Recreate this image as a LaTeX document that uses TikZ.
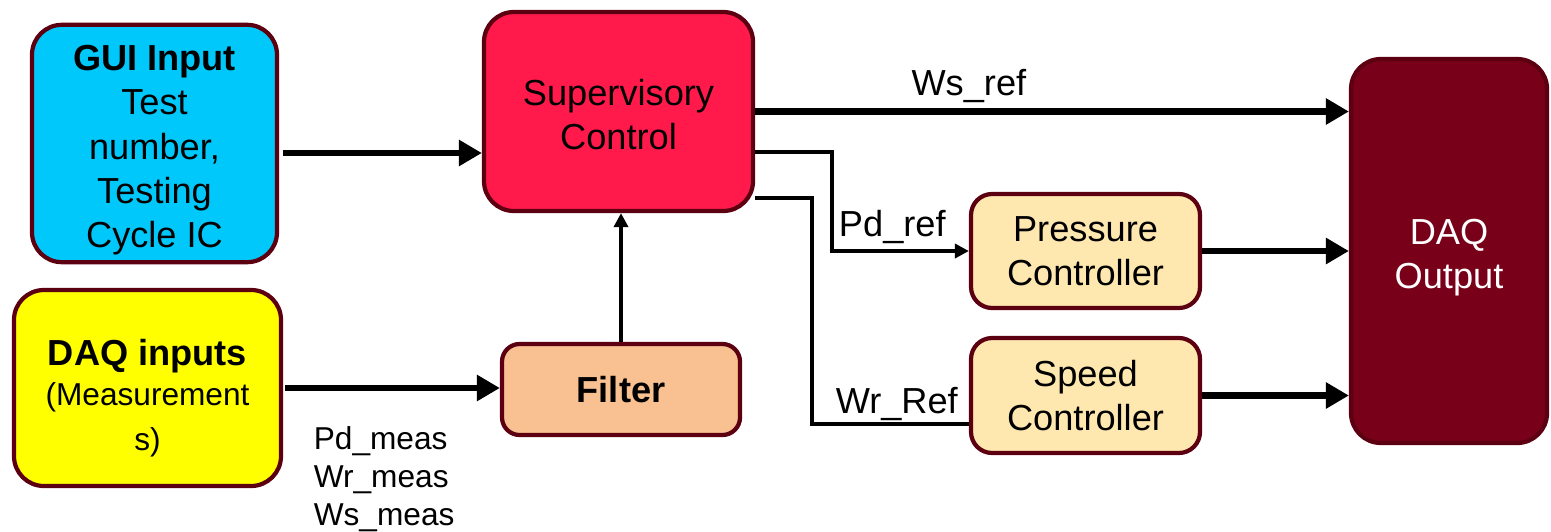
\documentclass[tikz,border=0pt]{standalone}
\usepackage{fontspec}
\setmainfont{Liberation Sans}
\usepackage{xcolor}
\usepackage{tikz}
\usetikzlibrary{arrows.meta,positioning,calc}
\definecolor{edge}{HTML}{5C0011}
\definecolor{guifill}{HTML}{00C8FA}
\definecolor{daqfill}{HTML}{FFFF00}
\definecolor{supfill}{HTML}{FF1A4B}
\definecolor{filtfill}{HTML}{F9C191}
\definecolor{ctrlfill}{HTML}{FFE8B0}
\definecolor{outfill}{HTML}{780018}
\tikzset{
  blk/.style  ={draw=edge, line width=1.2pt, rounded corners=8.5pt, align=center,
                font=\fontsize{10.3}{12.6}\selectfont, inner sep=2pt},
  fat/.style  ={draw=black, line width=1.8pt, -{Triangle[length=0.23cm,width=0.25cm]}},
  fl/.style   ={draw=black, line width=1pt, -{Triangle[length=0.14cm,width=0.14cm]}},
  ln/.style   ={draw=black, line width=1pt},
  sig/.style  ={font=\fontsize{10.3}{12.5}\selectfont, inner sep=1.5pt},
  meas/.style ={font=\fontsize{9}{10.8}\selectfont, align=left, inner sep=0pt},
}
% extra room above the first line, pushes a text block down a little
\newcommand{\topgap}[1]{\rule{0pt}{#1}}
\newcommand{\smallln}{\fontsize{9}{12}\selectfont}

\begin{document}
\begin{tikzpicture}[x=1cm,y=1cm]
  \useasboundingbox (0,0) rectangle (15.51,-5.31);

  % ---------------- input side ----------------------------------------------
  \node[blk, fill=guifill, minimum width=2.45cm, minimum height=2.35cm] (gui) at (1.545,-1.435)
        {\topgap{11pt}\textbf{GUI Input}\\Test\\number,\\Testing\\Cycle IC};
  \node[blk, fill=daqfill, minimum width=2.67cm, minimum height=1.96cm] (din) at (1.475,-3.88)
        {\topgap{13pt}\textbf{DAQ inputs}\\[-1pt]\smallln (Measurement\\\smallln s)};
  \node[meas, anchor=north west] (meas) at ([xshift=0.30cm,yshift=-0.38cm]din.east)
        {Pd\_meas\\Wr\_meas\\Ws\_meas};

  % ---------------- supervisory layer ----------------------------------------
  \node[blk, fill=supfill, minimum width=2.69cm, minimum height=1.99cm] (sup) at (6.185,-1.115)
        {\topgap{9pt}Supervisory\\Control};
  \node[blk, fill=filtfill, rounded corners=5pt, minimum width=2.38cm, minimum height=0.91cm]
        (filt) at (6.21,-3.895) {\textbf{Filter}};

  % ---------------- controllers and output -----------------------------------
  \node[blk, fill=ctrlfill, rounded corners=6pt, minimum width=2.29cm, minimum height=1.14cm]
        (pres) at (10.855,-2.51) {Pressure\\Controller};
  \node[blk, fill=ctrlfill, rounded corners=6pt, minimum width=2.29cm, minimum height=1.15cm]
        (speed) at (10.855,-3.955) {Speed\\Controller};
  \node[blk, fill=outfill, text=white, minimum width=1.96cm, minimum height=3.84cm]
        (out) at (14.49,-2.51) {\topgap{11pt}DAQ\\Output};

  % ---------------- connections ----------------------------------------------
  \draw[fat] ([xshift=0.04cm,yshift=-0.095cm]gui.east) -- ([yshift=-0.095cm]gui.east -| sup.west);
  \draw[fat] ([xshift=0.02cm]din.east) -- (din.east -| filt.west);
  \draw[fl] (filt.north) -- (filt.north |- sup.south);
  \draw[fat] (sup.east) -- node[sig, above, pos=0.36] {Ws\_ref} (sup.east -| out.west);
  \draw[fl] ([yshift=-0.405cm]sup.east) -- ++(0.77,0) |- node[sig, above, pos=0.72] {Pd\_ref} (pres.west);
  \draw[ln] ([yshift=-0.865cm]sup.east) -- ++(0.57,0) |- node[sig, above, pos=0.77, inner sep=0.5pt] {Wr\_Ref}
        ([yshift=-0.285cm]speed.west);
  \draw[fat] (pres.east) -- (pres.east -| out.west);
  \draw[fat] (speed.east) -- (speed.east -| out.west);
\end{tikzpicture}
\end{document}
